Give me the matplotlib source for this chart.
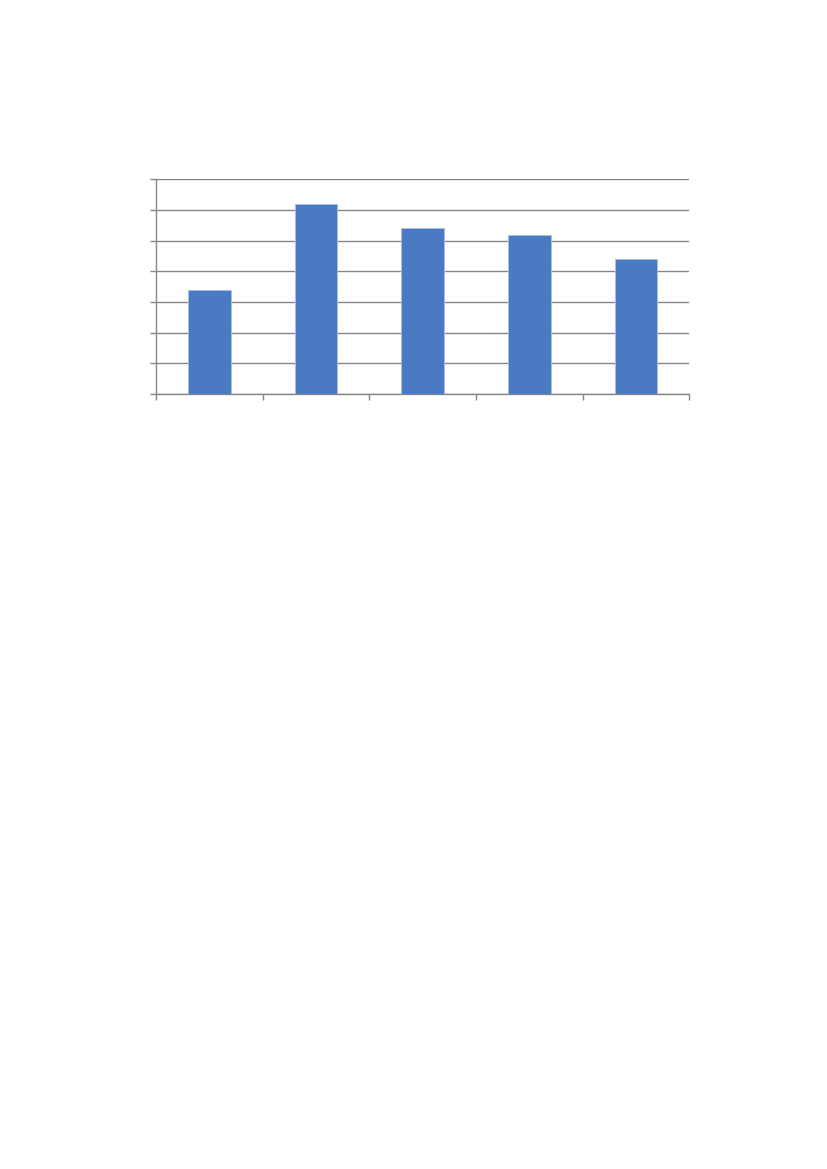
import matplotlib
matplotlib.use("Agg")
import matplotlib.pyplot as plt

categories = ["A", "B", "C", "D", "E"]
values = [3.4, 6.2, 5.4, 5.2, 4.4]
y_ticks = [0, 1, 2, 3, 4, 5, 6, 7]

fig = plt.figure(figsize=(8.27, 11.69), dpi=100)
ax = fig.add_axes([0.1886, 0.6630, 0.6449, 0.1836])

xpos = [i + 0.5 for i in range(len(categories))]
ax.bar(xpos, values, width=0.4, color="#4A7AC4", edgecolor="#A9C0E6", linewidth=0.6, zorder=3)

ax.set_xlim(0, len(categories))
ax.set_ylim(y_ticks[0], y_ticks[-1])
ax.set_yticks(y_ticks)
ax.set_xticks(range(len(categories) + 1))
ax.set_xticklabels([])
ax.set_yticklabels([])
ax.yaxis.grid(True, color="#868686", linewidth=1.0, zorder=0)
ax.set_axisbelow(True)

for s in ["top", "right"]:
    ax.spines[s].set_visible(False)
for s in ["left", "bottom"]:
    ax.spines[s].set_color("#868686")
    ax.spines[s].set_linewidth(1.0)
ax.tick_params(axis="both", direction="out", length=4, color="#868686", width=1.0)

fig.savefig("out.png", dpi=100)
